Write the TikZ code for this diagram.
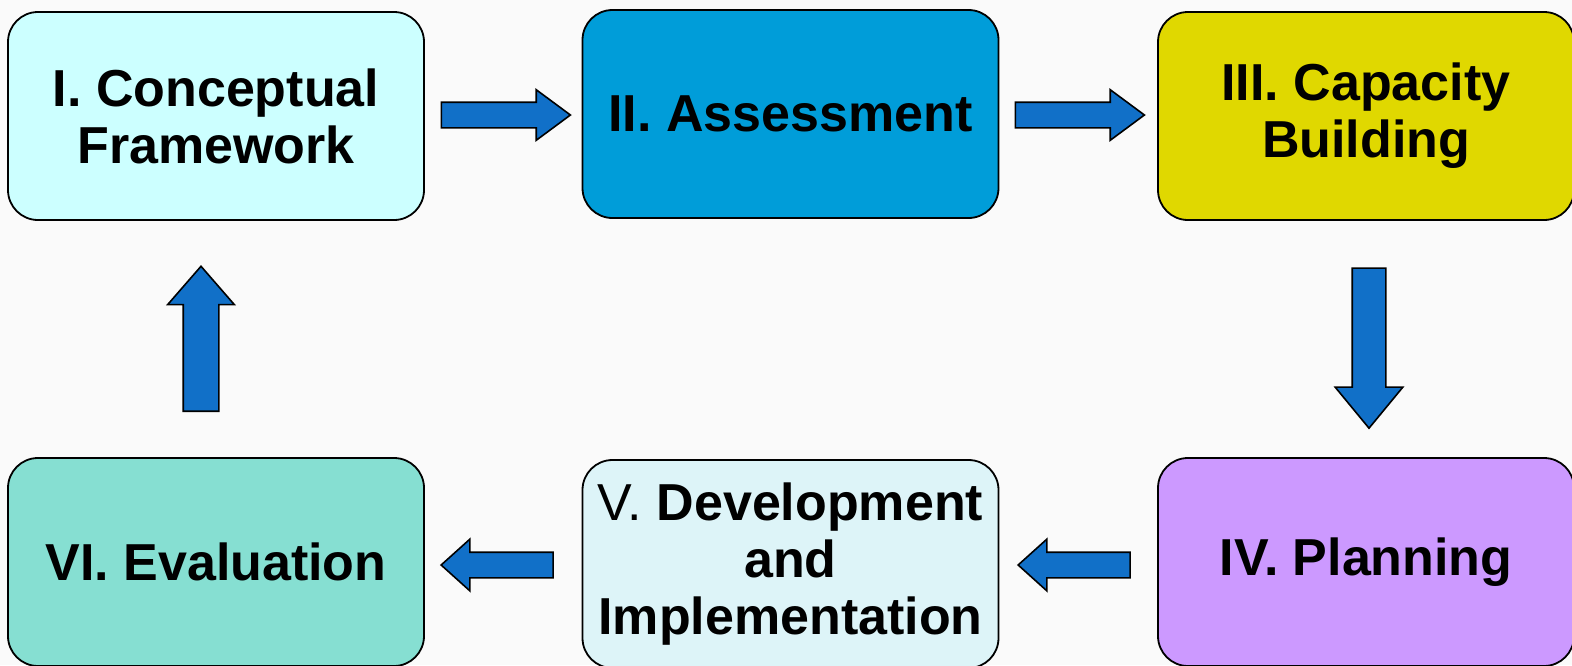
\documentclass[tikz,border=0pt]{standalone}
\usepackage{fontspec}
\setmainfont{Liberation Sans}
\usepackage{tikz}
\usetikzlibrary{positioning, shapes.arrows, calc}
\definecolor{paper}{RGB}{250,250,250}
\definecolor{frameblue}{RGB}{204,255,255}
\definecolor{assessblue}{RGB}{0,157,217}
\definecolor{capyellow}{RGB}{224,216,0}
\definecolor{planviolet}{RGB}{204,153,255}
\definecolor{devcyan}{RGB}{221,244,248}
\definecolor{evalteal}{RGB}{134,223,210}
\definecolor{flowblue}{RGB}{17,112,200}

\begin{document}
\begin{tikzpicture}[
    x=1pt, y=-1pt,
    stage/.style={draw, line width=1.8pt, rounded corners=30pt, minimum width=416pt, minimum height=208pt,
        align=center, inner sep=0pt, font=\fontsize{52}{57}\selectfont\bfseries},
    flow/.style={single arrow, draw, line width=1.6pt, fill=flowblue, single arrow head indent=0pt},
    rightflow/.style={flow, minimum height=129pt, inner xsep=0pt, inner ysep=12pt, single arrow head extend=12.5pt, single arrow tip angle=73},
    leftflow/.style={flow, shape border rotate=180, minimum height=112pt, inner xsep=0pt, inner ysep=12pt, single arrow head extend=13pt, single arrow tip angle=84},
    downflow/.style={flow, shape border rotate=270, minimum height=160pt, inner ysep=0pt, inner xsep=16pt, single arrow head extend=17pt, single arrow tip angle=79},
    upflow/.style={flow, shape border rotate=90, minimum height=145pt, inner ysep=0pt, inner xsep=17pt, single arrow head extend=15.5pt, single arrow tip angle=82}
]
\fill[paper] (0,0) rectangle (1572,665);
\useasboundingbox (0,0) rectangle (1572,665);

% top row
\node[stage, fill=frameblue] (concept) at (216,116) {I. Conceptual\\Framework};
\node[stage, fill=assessblue] (assess) at (790.5,114) {II. Assessment};
\node[stage, fill=capyellow] (capacity) at (1366,116) {III. Capacity\\Building};

% bottom row
\node[stage, fill=planviolet] (planning) at (1366,562) {IV. Planning};
\node[stage, fill=devcyan] (develop) at (790.5,564) {{\mdseries V.} Development\\and\\Implementation};
\node[stage, fill=evalteal] (evaluate) at (216,562) {VI. Evaluation};

% block arrows between the stages
\node[rightflow] (a12) at ($(concept.east)!0.5!(assess.west)+(-6,0)$) {};
\node[rightflow] (a23) at ($(assess.east)!0.5!(capacity.west)+(-7,0)$) {};
\node[downflow] (a34) at ($(capacity.south)!0.5!(planning.north)+(3,-1)$) {};
\node[leftflow] (a45) at ($(planning.west)!0.5!(develop.east)+(3,2)$) {};
\node[leftflow] (a56) at ($(develop.west)!0.5!(evaluate.east)+(1,2)$) {};
\node[upflow] (a61) at ($(evaluate.north)!0.5!(concept.south)+(-15,10)$) {};
\end{tikzpicture}
\end{document}
